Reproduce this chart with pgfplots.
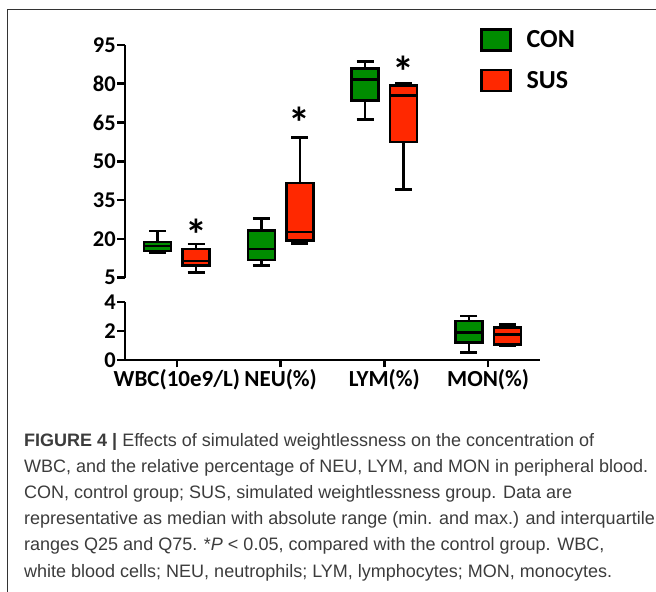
\documentclass[border=0pt]{standalone}
\usepackage{fontspec}
\setmainfont{Carlito}
\newfontfamily\capfont{Liberation Sans}
\usepackage{pgfplots}
\pgfplotsset{compat=1.18}
\usepgfplotslibrary{statistics}
\definecolor{congreen}{RGB}{0,140,0}
\definecolor{susred}{RGB}{255,40,0}
\definecolor{captext}{RGB}{60,60,60}
\begin{document}
\begin{tikzpicture}
\path[use as bounding box, fill=white] (0bp,0bp) rectangle (656bp,592bp);
\draw[black!80, line width=0.8bp] (7bp,0bp) -- (7bp,583bp) -- (656bp,583bp);
\pgfplotsset{
  every axis/.append style={
    scale only axis, width=415bp, xmin=0.5, xmax=4.5,
    axis line style={-, line width=2.6bp},
    major tick style={line width=2.6bp, black},
    major tick length=7.5bp, tick align=outside,
    /pgf/number format/assume math mode=true,
    tick label style={font=\fontsize{22.5bp}{22.5bp}\selectfont\bfseries},
    yticklabel style={inner sep=1.5bp},
    boxplot/draw direction=y,
    boxplot/box extend=0.26,
    boxplot/whisker extend=0.165,
    clip=false,
  },
  cbox/.style={forget plot, fill=congreen, draw=black, line width=2.6bp},
  sbox/.style={forget plot, fill=susred, draw=black, line width=2.6bp},
}
% upper panel
\begin{axis}[
  at={(125bp,314.3bp)}, anchor=south west, height=232.7bp,
  ymin=5, ymax=95, ytick={5,20,35,50,65,80,95},
  axis x line=none, axis y line*=left,
  legend image code/.code={\draw[#1, line width=2.6bp] (0bp,-10.5bp) rectangle (29bp,10.5bp);},
  legend style={draw=none, fill=none, at={(axis description cs:0.855,1.074)}, anchor=north west,
    font=\fontsize{26bp}{26bp}\selectfont\bfseries, row sep=17bp, column sep=13bp,
    inner sep=0pt, nodes={inner sep=2bp}},
  legend cell align=left,
]
\addlegendimage{fill=congreen, draw=black}
\addlegendentry{CON}
\addlegendimage{fill=susred, draw=black}
\addlegendentry{SUS}
% WBC
\addplot[cbox, boxplot prepared={draw position=0.814, lower whisker=14.8, lower quartile=15.3, median=17.3, upper quartile=18.8, upper whisker=23.0}] coordinates {};
\addplot[sbox, boxplot prepared={draw position=1.186, lower whisker=7.1, lower quartile=9.8, median=11.5, upper quartile=16.1, upper whisker=18.0}] coordinates {};
% NEU
\addplot[cbox, boxplot prepared={draw position=1.814, lower whisker=9.8, lower quartile=11.8, median=16.1, upper quartile=23.2, upper whisker=27.8}] coordinates {};
\addplot[sbox, boxplot prepared={draw position=2.186, lower whisker=18.2, lower quartile=19.3, median=22.6, upper quartile=41.6, upper whisker=59.3}] coordinates {};
% LYM
\addplot[cbox, boxplot prepared={draw position=2.814, lower whisker=66.3, lower quartile=73.5, median=81.7, upper quartile=85.9, upper whisker=88.6}] coordinates {};
\addplot[sbox, boxplot prepared={draw position=3.186, lower whisker=39.2, lower quartile=57.5, median=75.4, upper quartile=79.3, upper whisker=80.2}] coordinates {};
% significance stars
\addplot[forget plot, draw=none, mark=none, nodes near coords={*},
  every node near coord/.append style={anchor=north, inner sep=0pt, font=\fontsize{44bp}{44bp}\selectfont\bfseries}]
  coordinates {(1.186,27.6) (2.186,71.2) (3.186,91.0)};
\end{axis}
% lower panel
\begin{axis}[
  at={(125bp,232bp)}, anchor=south west, height=58bp,
  ymin=0, ymax=4, ytick={0,2,4},
  axis x line*=bottom, axis y line*=left,
  xtick={1,2,3,4}, xticklabels={WBC(10e9/L),NEU(\%),LYM(\%),MON(\%)},
  xticklabel style={inner sep=2bp, font=\fontsize{23bp}{23bp}\selectfont\bfseries},
]
\addplot[cbox, boxplot prepared={draw position=3.814, lower whisker=0.51, lower quartile=1.22, median=1.91, upper quartile=2.69, upper whisker=3.03}] coordinates {};
\addplot[sbox, boxplot prepared={draw position=4.186, lower whisker=0.97, lower quartile=1.08, median=1.77, upper quartile=2.23, upper whisker=2.44}] coordinates {};
\end{axis}
% caption
\begin{scope}[every node/.style={anchor=base west, inner sep=0pt, text=captext, font=\capfont\fontsize{18bp}{18bp}\selectfont}]
\node at (24bp,145bp) {\textbf{FIGURE 4 |} Effects of simulated weightlessness on the concentration of};
\node at (24bp,119bp) {WBC, and the relative percentage of NEU, LYM, and MON in peripheral blood.};
\node at (24bp,93bp) {CON, control group; SUS, simulated weightlessness group. Data are};
\node at (24bp,67bp) {representative as median with absolute range (min. and max.) and interquartile};
\node at (24bp,41bp) {ranges Q25 and Q75. *\textit{P} < 0.05, compared with the control group. WBC,};
\node at (24bp,15bp) {white blood cells; NEU, neutrophils; LYM, lymphocytes; MON, monocytes.};
\end{scope}
\end{tikzpicture}
\end{document}
